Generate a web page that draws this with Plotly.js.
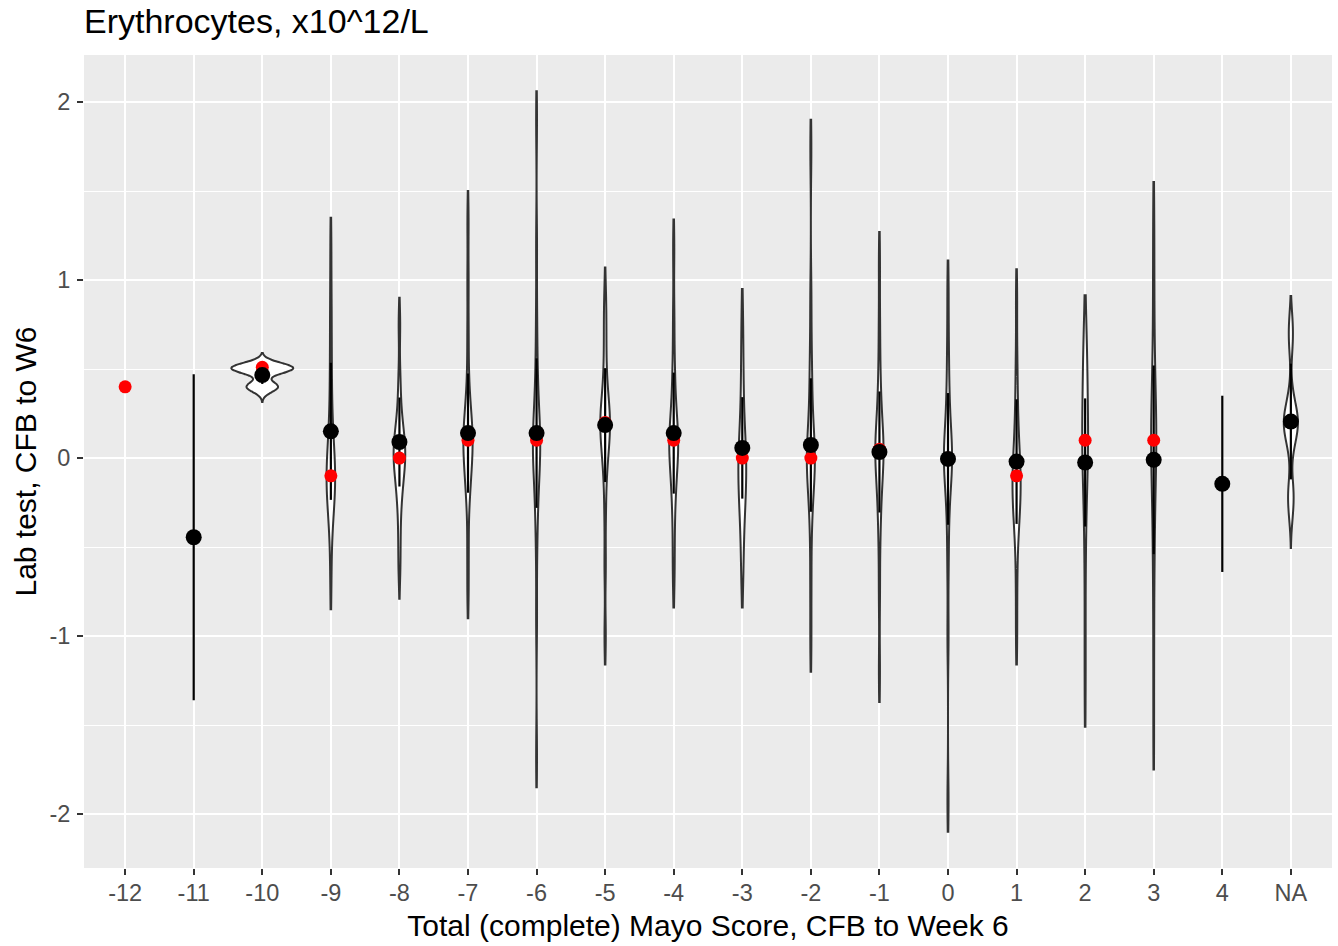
<!DOCTYPE html>
<html>
<head>
<meta charset="utf-8">
<script src="https://cdn.plot.ly/plotly-3.0.1.min.js"></script>
<style>html,body{margin:0;padding:0;background:#fff;}#chart{width:1338px;height:946px;}</style>
</head>
<body>
<div id="chart"></div>
<script>
// ---- Data ----
const categories = ['-12','-11','-10','-9','-8','-7','-6','-5','-4','-3','-2','-1','0','1','2','3','4','NA'];
const meanVals   = [null, -0.445, 0.466, 0.15, 0.09, 0.14, 0.14, 0.185, 0.14, 0.057, 0.073, 0.034, -0.005, -0.02, -0.025, -0.01, -0.145, 0.205];
const sdVals     = [null, 0.915, 0.05, 0.385, 0.25, 0.335, 0.42, 0.32, 0.34, 0.285, 0.375, 0.34, 0.37, 0.35, 0.36, 0.53, 0.495, 0.325];
const medianVals = [0.40, -0.445, 0.51, -0.10, 0.0, 0.10, 0.10, 0.20, 0.10, 0.0, 0.0, 0.05, 0.0, -0.10, 0.10, 0.10, -0.145, 0.20];
// visible ends (tips) of each violin
const violinLow  = [null, null, 0.315, -0.85, -0.79, -0.90, -1.85, -1.16, -0.84, -0.84, -1.20, -1.37, -2.10, -1.16, -1.51, -1.75, null, -0.505];
const violinHigh = [null, null, 0.590, 1.35, 0.90, 1.50, 2.06, 1.07, 1.34, 0.95, 1.90, 1.27, 1.11, 1.06, 0.915, 1.55, null, 0.91];
const yTickVals  = [-2, -1, 0, 1, 2];
const yTickText  = ['-2', '-1', '0', '1', '2'];

// estimated distributions behind the violins
const sampleM10 = [0.40, 0.50, 0.51];
const sampleM9  = [-0.70, -0.45, -0.3, -0.25, -0.2, -0.2, -0.15, -0.1, -0.1, -0.1, -0.05, 0.0, 0.05, 0.1, 0.2, 0.35, 0.5, 0.7, 0.9, 1.20];
const sampleM8  = [-0.62, -0.45, -0.3, -0.2, -0.15, -0.1, -0.05, 0.0, 0.0, 0.0, 0.05, 0.1, 0.1, 0.15, 0.2, 0.3, 0.45, 0.75];
const sampleM7  = [-0.75, -0.5, -0.25, -0.15, -0.1, -0.05, 0.0, 0.05, 0.1, 0.1, 0.1, 0.15, 0.2, 0.25, 0.3, 0.45, 0.7, 1.0, 1.33];
const sampleM6  = [-1.68, -0.9, -0.5, -0.3, -0.2, -0.1, -0.05, 0.0, 0.05, 0.1, 0.1, 0.1, 0.15, 0.2, 0.3, 0.4, 0.55, 0.8, 1.2, 1.90];
const sampleM5  = [-1.00, -0.6, -0.3, -0.1, 0.0, 0.05, 0.1, 0.15, 0.2, 0.2, 0.2, 0.25, 0.3, 0.35, 0.45, 0.6, 0.75, 0.90];
const sampleM4  = [-0.68, -0.5, -0.3, -0.2, -0.1, -0.05, 0.0, 0.05, 0.1, 0.1, 0.1, 0.15, 0.2, 0.3, 0.4, 0.55, 0.8, 1.18];
const sampleM3  = [-0.68, -0.55, -0.4, -0.3, -0.25, -0.2, -0.15, -0.1, -0.05, 0.0, 0.0, 0.05, 0.1, 0.2, 0.3, 0.45, 0.6, 0.80];
const sampleM2  = [-1.03, -0.7, -0.4, -0.25, -0.15, -0.1, -0.05, 0.0, 0.0, 0.0, 0.05, 0.1, 0.2, 0.3, 0.45, 0.6, 0.9, 1.74];
const sampleM1  = [-1.20, -0.75, -0.45, -0.3, -0.2, -0.1, -0.05, 0.0, 0.05, 0.05, 0.05, 0.1, 0.15, 0.25, 0.35, 0.5, 0.75, 1.10];
const sampleP0  = [-1.93, -1.0, -0.6, -0.35, -0.2, -0.1, -0.05, 0.0, 0.0, 0.0, 0.05, 0.1, 0.2, 0.3, 0.45, 0.65, 0.95];
const sampleP1  = [-1.00, -0.7, -0.45, -0.35, -0.3, -0.25, -0.2, -0.15, -0.1, -0.1, -0.05, 0.0, 0.1, 0.2, 0.35, 0.55, 0.90];
const sampleP2  = [-1.35, -1.0, -0.6, -0.35, -0.2, -0.1, 0.0, 0.05, 0.1, 0.1, 0.15, 0.2, 0.3, 0.45, 0.5, 0.55, 0.6, 0.76];
const sampleP3  = [-1.58, -1.1, -0.7, -0.45, -0.3, -0.15, -0.05, 0.05, 0.1, 0.1, 0.15, 0.2, 0.3, 0.4, 0.55, 0.8, 1.1, 1.38];
const sampleNA  = [-0.33, -0.25, -0.2, -0.15, 0.05, 0.1, 0.14, 0.17, 0.19, 0.2, 0.21, 0.23, 0.26, 0.3, 0.36, 0.62, 0.7, 0.78];

const violinSamples = [null, null, sampleM10, sampleM9, sampleM8, sampleM7, sampleM6, sampleM5, sampleM4,
  sampleM3, sampleM2, sampleM1, sampleP0, sampleP1, sampleP2, sampleP3, null, sampleNA];

// ---- helpers: bandwidth (like R bw.nrd0) and peak density for area scaling ----
function quant(s, p) {
  const h = (s.length - 1) * p, lo = Math.floor(h), hi = Math.min(lo + 1, s.length - 1);
  return s[lo] + (h - lo) * (s[hi] - s[lo]);
}
function bwNrd0(x) {
  const n = x.length, m = x.reduce((a, b) => a + b, 0) / n;
  const sd = Math.sqrt(x.reduce((a, b) => a + (b - m) * (b - m), 0) / (n - 1));
  const s = x.slice().sort((a, b) => a - b);
  const iqr = quant(s, 0.75) - quant(s, 0.25);
  let lo = Math.min(sd, iqr / 1.34);
  if (!(lo > 0)) lo = sd || 1;
  return 0.9 * lo * Math.pow(n, -0.2);
}
function peakDensity(x, bw, a, b) {
  const n = x.length;
  let best = 0;
  for (let k = 0; k <= 500; k++) {
    const t = a + (b - a) * k / 500;
    let d = 0;
    for (const v of x) { const z = (t - v) / bw; d += Math.exp(-0.5 * z * z); }
    d /= n * bw * Math.sqrt(2 * Math.PI);
    if (d > best) best = d;
  }
  return best;
}

const bws = violinSamples.map(s => s ? bwNrd0(s) : null);
const peaks = violinSamples.map((s, i) => s ? peakDensity(s, bws[i], violinLow[i], violinHigh[i]) : 0);
const maxPeak = Math.max(...peaks);

const FONT = 'Liberation Sans, Arial, Helvetica, sans-serif';
const traces = [];

violinSamples.forEach((s, i) => {
  if (!s) return;
  traces.push({
    type: 'violin',
    x: s.map(() => categories[i]),
    y: s,
    bandwidth: bws[i],
    spanmode: 'manual',
    span: [violinLow[i], violinHigh[i]],
    scalemode: 'width',
    width: 0.9 * peaks[i] / maxPeak,
    points: false,
    box: { visible: false },
    meanline: { visible: false },
    fillcolor: '#FFFFFF',
    line: { color: '#333333', width: 2 },
    hoverinfo: 'skip',
    showlegend: false
  });
});

// mean +/- sd line
traces.push({
  type: 'scatter', mode: 'markers',
  x: categories, y: meanVals,
  marker: { color: 'rgba(0,0,0,0)', size: 1 },
  error_y: { type: 'data', array: sdVals, symmetric: true, width: 0, thickness: 2.2, color: '#000000' },
  hoverinfo: 'skip', showlegend: false
});
// medians (red)
traces.push({
  type: 'scatter', mode: 'markers',
  x: categories, y: medianVals,
  marker: { color: '#FF0000', size: 13 },
  showlegend: false
});
// means (black)
traces.push({
  type: 'scatter', mode: 'markers',
  x: categories, y: meanVals,
  marker: { color: '#000000', size: 16 },
  showlegend: false
});

const layout = {
  width: 1338, height: 946,
  margin: { l: 84, r: 6, t: 55, b: 78 },
  paper_bgcolor: '#FFFFFF',
  plot_bgcolor: '#EBEBEB',
  violinmode: 'overlay',
  showlegend: false,
  font: { family: FONT, color: '#000000' },
  title: {
    text: 'Erythrocytes, x10^12/L',
    font: { family: FONT, size: 34, color: '#000000' },
    xref: 'paper', x: 0, xanchor: 'left',
    yref: 'container', y: 0.99, yanchor: 'top'
  },
  xaxis: {
    type: 'category',
    categoryorder: 'array', categoryarray: categories,
    range: [-0.6, 17.6],
    showgrid: true, gridcolor: '#FFFFFF', gridwidth: 2,
    zeroline: false, showline: false,
    ticks: 'outside', ticklen: 6, tickwidth: 2, tickcolor: '#333333',
    tickfont: { family: FONT, size: 23.5, color: '#4D4D4D' },
    ticklabelstandoff: -2,
    automargin: false,
    title: { text: 'Total (complete) Mayo Score, CFB to Week 6', font: { family: FONT, size: 30, color: '#000000' }, standoff: 9 }
  },
  yaxis: {
    range: [-2.303, 2.264],
    tickmode: 'array', tickvals: yTickVals, ticktext: yTickText,
    showgrid: true, gridcolor: '#FFFFFF', gridwidth: 2,
    minor: { dtick: 0.5, tick0: 0, showgrid: true, gridcolor: '#FFFFFF', gridwidth: 1 },
    zeroline: false, showline: false,
    ticks: 'outside', ticklen: 6, tickwidth: 2, tickcolor: '#333333',
    tickfont: { family: FONT, size: 23.5, color: '#4D4D4D' },
    ticklabelstandoff: 2,
    automargin: false,
    title: { text: 'Lab test, CFB to W6', font: { family: FONT, size: 30, color: '#000000' }, standoff: 3 }
  }
};

Plotly.newPlot('chart', traces, layout, { displayModeBar: false, staticPlot: true });
</script>
</body>
</html>
